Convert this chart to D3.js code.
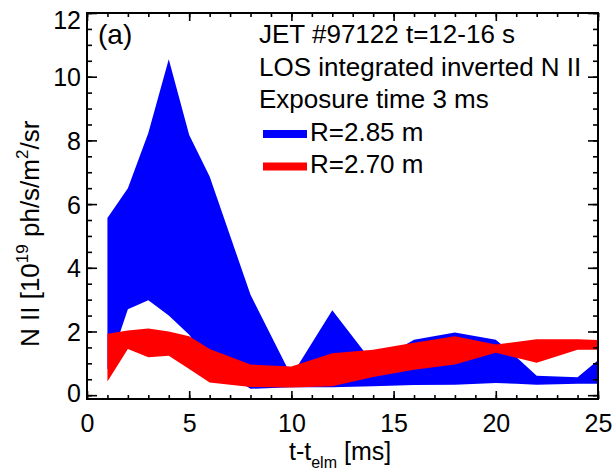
<!DOCTYPE html>
<html>
<head>
<meta charset="utf-8">
<script src="https://cdn.jsdelivr.net/npm/d3@7"></script>
<style>
  body { margin: 0; background: #fff; }
  svg { display: block; font-family: "Liberation Sans", Arial, Helvetica, sans-serif; }
</style>
</head>
<body>
<svg id="chart" width="614" height="472"></svg>
<script>
// R=2.85 m band (blue), lower/upper edge
const blueTime  = [1, 2, 3, 4, 5, 6, 8, 10, 12, 14, 16, 18, 20, 21, 22, 24, 25];
const blueUpper = [5.56, 6.5, 8.23, 10.55, 8.17, 6.87, 3.15, 0.6, 2.67, 1.0, 1.74, 1.97, 1.74, 1.2, 0.61, 0.56, 1.1];
const blueLower = [0.8, 2.7, 2.98, 2.5, 1.9, 1.0, 0.2, 0.25, 0.25, 0.28, 0.32, 0.33, 0.38, 0.36, 0.33, 0.36, 0.36];

// R=2.70 m band (red)
const redTime  = [1, 2, 3, 4, 5, 6, 8, 10, 12, 14, 16, 18, 20, 22, 24, 25];
const redUpper = [1.93, 2.03, 2.09, 2.0, 1.85, 1.45, 0.96, 0.9, 1.32, 1.43, 1.65, 1.85, 1.59, 1.76, 1.76, 1.73];
const redLower = [0.43, 1.45, 1.19, 1.24, 0.82, 0.4, 0.26, 0.24, 0.28, 0.57, 0.8, 0.96, 1.33, 1.02, 1.43, 1.43];

const xTicks = [0, 5, 10, 15, 20, 25];
const yTicks = [0, 2, 4, 6, 8, 10, 12];
const infoLines = ["JET #97122 t=12-16 s", "LOS integrated inverted N II", "Exposure time 3 ms"];
const legendLabels = ["R=2.85 m", "R=2.70 m"];
const legendColors = ["#0000ff", "#ff0000"];

const svg = d3.select("#chart");
const plotLeft = 87, plotRight = 598, plotTop = 13, plotBottom = 399;

const x = d3.scaleLinear().domain([0, 25]).range([plotLeft, plotRight]);
const y = d3.scaleLinear().domain([-0.12, 12]).range([plotBottom, plotTop]);

// bands
function band(times, lo, hi) {
  return times.map((t, i) => ({ t: t, lo: lo[i], hi: hi[i] }));
}
const area = d3.area()
  .x(d => x(d.t))
  .y0(d => y(d.lo))
  .y1(d => y(d.hi));

svg.append("path")
  .datum(band(blueTime, blueLower, blueUpper))
  .attr("d", area)
  .attr("fill", legendColors[0]);

svg.append("path")
  .datum(band(redTime, redLower, redUpper))
  .attr("d", area)
  .attr("fill", legendColors[1]);

// axes (ticks point inward on all four sides)
const xMinor = d3.range(0, 26, 1);
const yMinor = d3.range(0, 12.01, 0.5);

function drawAxis(axis, transform) {
  const g = svg.append("g").attr("transform", transform).call(axis);
  g.select(".domain").remove();
  g.selectAll("line").attr("stroke", "#000").attr("stroke-width", 1.6);
  return g;
}

drawAxis(d3.axisBottom(x).tickValues(xMinor).tickSize(-4).tickFormat(""), `translate(0,${plotBottom})`);
drawAxis(d3.axisTop(x).tickValues(xMinor).tickSize(-4).tickFormat(""), `translate(0,${plotTop})`);
drawAxis(d3.axisTop(x).tickValues(xTicks).tickSize(-8).tickFormat(""), `translate(0,${plotTop})`);
const xAxis = drawAxis(d3.axisBottom(x).tickValues(xTicks).tickSize(-8).tickPadding(0).tickFormat(d3.format("d")), `translate(0,${plotBottom})`);
xAxis.selectAll("text")
  .attr("y", 33).attr("dy", null)
  .attr("font-size", 25).attr("fill", "#000")
  .attr("font-family", "Liberation Sans, Arial, sans-serif");

drawAxis(d3.axisLeft(y).tickValues(yMinor).tickSize(-5).tickFormat(""), `translate(${plotLeft},0)`);
drawAxis(d3.axisRight(y).tickValues(yMinor).tickSize(-5).tickFormat(""), `translate(${plotRight},0)`);
drawAxis(d3.axisRight(y).tickValues(yTicks).tickSize(-10).tickFormat(""), `translate(${plotRight},0)`);
const yAxis = drawAxis(d3.axisLeft(y).tickValues(yTicks).tickSize(-10).tickPadding(0).tickFormat(d3.format("d")), `translate(${plotLeft},0)`);
yAxis.selectAll("text")
  .attr("x", -6)
  .attr("dy", d => d === 12 ? "0.6em" : (d === 0 ? "0.24em" : "0.36em"))
  .attr("font-size", 25).attr("fill", "#000")
  .attr("font-family", "Liberation Sans, Arial, sans-serif");

// frame
svg.append("rect")
  .attr("x", plotLeft).attr("y", plotTop)
  .attr("width", plotRight - plotLeft).attr("height", plotBottom - plotTop)
  .attr("fill", "none").attr("stroke", "#000").attr("stroke-width", 2);

// panel tag
svg.append("text").attr("x", 98).attr("y", 44).attr("font-size", 28).text("(a)");

// info text
svg.selectAll("text.info")
  .data(infoLines)
  .enter().append("text")
  .attr("class", "info")
  .attr("x", 259)
  .attr("y", (d, i) => 43 + i * 32.5)
  .attr("font-size", 26)
  .text(d => d);

// legend
const leg = svg.selectAll("g.leg")
  .data(legendLabels)
  .enter().append("g")
  .attr("class", "leg")
  .attr("transform", (d, i) => `translate(0,${140.5 + i * 32.5})`);
leg.append("rect")
  .attr("x", 263).attr("y", -10.5)
  .attr("width", 44).attr("height", 8)
  .attr("fill", (d, i) => legendColors[i]);
leg.append("text")
  .attr("x", 310).attr("y", 0)
  .attr("font-size", 26)
  .text(d => d);

// x title
const xt = svg.append("text").attr("x", 289).attr("y", 460).attr("font-size", 25);
xt.append("tspan").text("t-t");
xt.append("tspan").attr("font-size", 16).attr("dy", 8).text("elm");
xt.append("tspan").attr("dy", -8).text(" [ms]");

// y title
const yt = svg.append("text")
  .attr("transform", "translate(39,347) rotate(-90)")
  .attr("font-size", 26);
yt.append("tspan").text("N II [10");
yt.append("tspan").attr("font-size", 17).attr("dy", -11).text("19");
yt.append("tspan").attr("dy", 11).text(" ph/s/m");
yt.append("tspan").attr("font-size", 17).attr("dy", -11).text("2");
yt.append("tspan").attr("dy", 11).text("/sr");
</script>
</body>
</html>
